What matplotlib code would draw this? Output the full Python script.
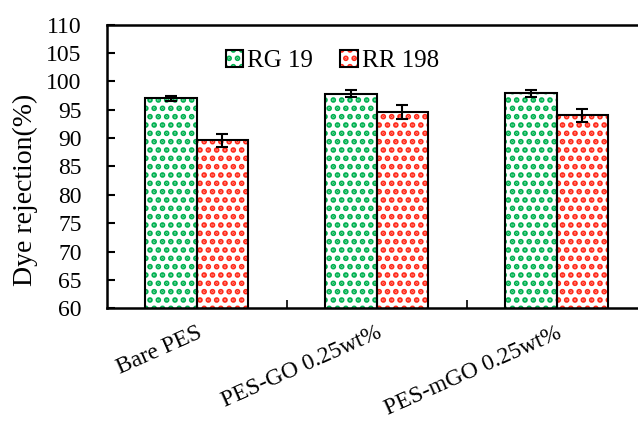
import numpy as np
import matplotlib.pyplot as plt
from matplotlib.patches import Rectangle
from matplotlib.legend_handler import HandlerTuple

plt.rcParams['font.family'] = ['Liberation Serif', 'DejaVu Serif']
plt.rcParams['hatch.linewidth'] = 2.8

# data
groups = ['Bare PES', 'PES-GO 0.25wt%', 'PES-mGO 0.25wt%']
rg19 = [97.0, 97.8, 97.9]
rg19_err = [0.5, 0.6, 0.6]
rr198 = [89.6, 94.6, 94.0]
rr198_err = [1.2, 1.3, 1.2]

green = '#00B050'
red = '#FF2A1A'

x = np.arange(len(groups))
w = 0.285

fig = plt.figure(figsize=(6.38, 4.21), dpi=100)
ax = fig.add_axes([106.7/638, (421-308.3)/421, 539.8/638, 283.6/421])

# hatch layer then outline
ax.bar(x - w/2, rg19, w, color='white', edgecolor=green, hatch='..', linewidth=0)
ax.bar(x + w/2, rr198, w, color='white', edgecolor=red, hatch='..', linewidth=0)
ax.bar(x - w/2, rg19, w, fill=False, edgecolor='black', linewidth=1.5)
ax.bar(x + w/2, rr198, w, fill=False, edgecolor='black', linewidth=1.5)
ax.errorbar(x - w/2, rg19, yerr=rg19_err, fmt='none', ecolor='black',
            elinewidth=1.5, capsize=4.5, capthick=1.5)
ax.errorbar(x + w/2, rr198, yerr=rr198_err, fmt='none', ecolor='black',
            elinewidth=1.5, capsize=4.5, capthick=1.5)

ax.set_xlim(-0.5, 2.5)
ax.set_ylim(60, 110)
ax.set_yticks(np.arange(60, 111, 5))
ax.tick_params(axis='y', direction='in', length=6, width=1.5, pad=18,
               labelsize=17)
ax.set_xticks(x)
ax.set_xticklabels(groups, rotation=24, ha='right', rotation_mode='anchor',
                   fontsize=17)
ax.tick_params(axis='x', length=0, pad=10)
ax.set_xticks([0.5, 1.5, 2.5], minor=True)
ax.tick_params(axis='x', which='minor', direction='in', length=6, width=1.2)

ax.set_ylabel('Dye rejection(%)', fontsize=20)
ax.yaxis.set_label_coords(-0.127, 0.417)
for s in ax.spines.values():
    s.set_linewidth(1.8)

def handle(c):
    return (Rectangle((0, 0), 1, 1, facecolor='white', edgecolor=c, hatch='..', linewidth=0),
            Rectangle((0, 0), 1, 1, fill=False, edgecolor='black', linewidth=1.5))

ax.legend([handle(green), handle(red)], ['RG 19', 'RR 198'],
          handler_map={tuple: HandlerTuple(ndivide=1)},
          loc='center', bbox_to_anchor=(0.418, 0.872), ncol=2,
          frameon=False, fontsize=18, handlelength=0.7,
          handleheight=0.7, handletextpad=0.15, columnspacing=1.1)

fig.savefig('out.png', dpi=100)
